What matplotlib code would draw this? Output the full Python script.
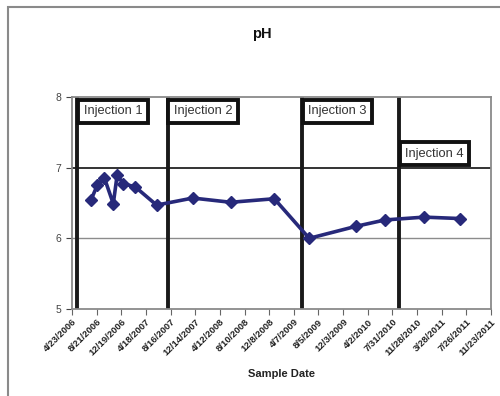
import matplotlib.pyplot as plt
from matplotlib.patches import Rectangle
import pandas as pd

sample_dates = ["2006-07-24", "2006-08-24", "2006-09-27", "2006-11-10", "2006-11-29",
                "2006-12-29", "2007-02-24", "2007-06-09", "2007-12-02", "2008-06-04",
                "2009-01-02", "2009-06-21", "2010-02-04", "2010-06-25", "2011-01-01",
                "2011-06-25"]
ph_values = [6.54, 6.75, 6.86, 6.49, 6.90, 6.77, 6.73, 6.47, 6.57, 6.51,
             6.56, 6.00, 6.17, 6.26, 6.30, 6.28]

injection_dates = ["2006-05-19", "2007-08-02", "2009-05-18", "2010-09-01"]
injection_labels = ["Injection 1", "Injection 2", "Injection 3", "Injection 4"]
injection_label_y = [7.80, 7.80, 7.80, 7.20]

tick_start = "2006-04-23"
tick_count = 18
y_ticks = [5, 6, 7, 8]

x = pd.to_datetime(sample_dates)
ticks = pd.date_range(tick_start, periods=tick_count, freq="120D")
tick_labels = [f"{d.month}/{d.day}/{d.year}" for d in ticks]

plt.rcParams['font.family'] = ['Liberation Sans', 'DejaVu Sans']

fig = plt.figure(figsize=(5, 3.96), dpi=100)
fig.patches.append(Rectangle((0.016, -0.1), 1.2, 0.982 + 0.1, transform=fig.transFigure,
                             fill=False, edgecolor="#8a8a8a", linewidth=1.5))
ax = fig.add_axes([0.144, 0.2197, 0.838, 0.5354])

# horizontal reference lines
ax.axhline(6, color="#8c8c8c", lw=1.0, zorder=1)
ax.axhline(7, color="#111111", lw=1.2, zorder=1)

for d, lab, ly in zip(pd.to_datetime(injection_dates), injection_labels, injection_label_y):
    ax.axvline(d, color="#1a1a1a", lw=2.8, zorder=2)
    ax.text(d + pd.Timedelta(days=30), ly, lab, ha="left", va="center", fontsize=9.3,
            color="#333333", zorder=4,
            bbox=dict(boxstyle="square,pad=0.42", fc="white", ec="#111111", lw=2.8))

ax.plot(x, ph_values, color="#27297a", lw=2.6, marker="D", markersize=6.5, zorder=3)

ax.set_xlim(ticks[0], ticks[-1])
ax.set_ylim(5, 8)
ax.set_yticks(y_ticks)
ax.set_xticks(ticks)
ax.set_xticklabels(tick_labels, rotation=45, ha="right", rotation_mode="anchor",
                   fontsize=6.8, fontweight="bold", color="#222222")
ax.tick_params(axis="y", labelsize=7.5, colors="#444444", length=4, direction="out")
ax.tick_params(axis="x", length=4, color="#666666", direction="out", pad=2)
for s in ax.spines.values():
    s.set_color("#8a8a8a")
    s.set_linewidth(1.3)

ax.set_xlabel("Sample Date", fontsize=8, fontweight="bold", color="#222222", labelpad=8)
fig.text(0.524, 0.915, "pH", ha="center", va="center", fontsize=10.5, fontweight="bold",
         color="#111111")

fig.savefig("out.png", dpi=100)
